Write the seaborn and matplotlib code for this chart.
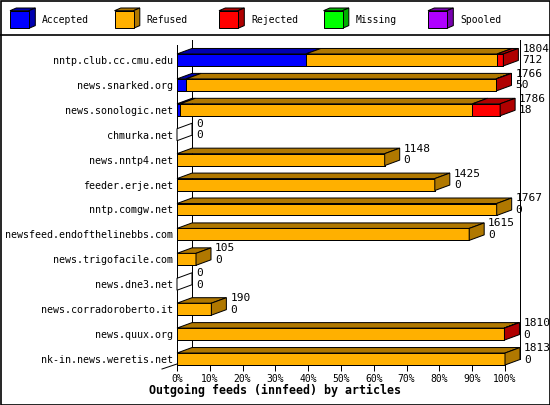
import matplotlib
matplotlib.use("Agg")
import matplotlib.pyplot as plt
from matplotlib.patches import Polygon, Rectangle
import seaborn as sns
import pandas as pd

# innfeed outgoing feeds, article counts per peer
feeds = ["nntp.club.cc.cmu.edu", "news.snarked.org", "news.sonologic.net",
         "chmurka.net", "news.nntp4.net", "feeder.erje.net", "nntp.comgw.net",
         "newsfeed.endofthelinebbs.com", "news.trigofacile.com", "news.dne3.net",
         "news.corradoroberto.it", "news.quux.org", "nk-in.news.weretis.net"]
offered = [1804, 1766, 1786, 0, 1148, 1425, 1767, 1615, 105, 0, 190, 1810, 1813]
accepted = [712, 50, 18, 0, 0, 0, 0, 0, 0, 0, 0, 0, 0]
refused = [1057, 1713, 1615, 0, 1148, 1425, 1767, 1615, 105, 0, 190, 1808, 1813]
rejected = [35, 3, 153, 0, 0, 0, 0, 0, 0, 0, 0, 2, 0]
missing = [0] * 13
spooled = [0] * 13

series = ["Accepted", "Refused", "Rejected", "Missing", "Spooled"]
front_colors = ["#0000ff", "#ffb000", "#ff0000", "#00ff00", "#b000ff"]
dark_colors = ["#0000b0", "#b07800", "#b00000", "#00b000", "#7800b0"]
pct_ticks = list(range(0, 101, 10))

df = pd.DataFrame({"feed": feeds, "Accepted": accepted, "Refused": refused,
                   "Rejected": rejected, "Missing": missing, "Spooled": spooled})
scale = 100.0 / max(offered)
cum = df[series].cumsum(axis=1) * scale

plt.rcParams["font.family"] = ["DejaVu Sans Mono"]
LW = 0.72

fig = plt.figure(figsize=(5.5, 4.05), dpi=100)

# frame + legend layer in pixel coordinates
bg = fig.add_axes([0, 0, 1, 1])
bg.set_xlim(0, 550)
bg.set_ylim(405, 0)
bg.axis("off")
bg.add_patch(Rectangle((0.5, 0.5), 549, 404, fill=False, ec="black", lw=1.2))
bg.plot([0, 550], [35, 35], color="black", lw=1.2)
bg.plot([162, 177], [369, 364], color="black", lw=LW)
for k, name in enumerate(series):
    x0 = 10 + k * 104.5
    bg.add_patch(Polygon([(x0, 10.7), (x0 + 6.3, 8), (x0 + 25.3, 8), (x0 + 19, 10.7)],
                         fc=dark_colors[k], ec="black", lw=LW))
    bg.add_patch(Polygon([(x0 + 19, 10.7), (x0 + 25.3, 8), (x0 + 25.3, 25.6), (x0 + 19, 28.3)],
                         fc=dark_colors[k], ec="black", lw=LW))
    bg.add_patch(Rectangle((x0, 10.7), 19, 17.6, fc=front_colors[k], ec="black", lw=LW))
    bg.text(x0 + 32.3, 20, name, fontsize=7, va="center", ha="left")
bg.text(275, 390, "Outgoing feeds (innfeed) by articles", fontsize=8.4,
        fontweight="bold", ha="center", va="center")

# main plot area: 177..505 px wide, 45..365 px high
ax = fig.add_axes([177 / 550, 40 / 405, 328 / 550, 320 / 405])
ax.patch.set_visible(False)

bar_h = 0.48
for k in reversed(range(len(series))):
    sns.barplot(x=cum[series[k]], y=df["feed"], orient="y", color=front_colors[k],
                saturation=1, width=bar_h, edgecolor="black", linewidth=LW,
                errorbar=None, ax=ax, zorder=2)

ytop, ybot = -0.6, 12 + bar_h / 2
ax.set_xlim(0, 100)
ax.set_ylim(ybot, ytop)
px_x = 328 / 100.0
px_y = 320 / (ybot - ytop)
dx = 15 / px_x
dy = 5.5 / px_y

# back wall
for xb in (dx, 100 + dx):
    ax.plot([xb, xb], [ytop - 5 / px_y, ybot - dy], color="black", lw=LW,
            clip_on=False, zorder=0)

for i in range(len(feeds)):
    yt, yb = i - bar_h / 2, i + bar_h / 2
    left = 0.0
    last = None
    for k, name in enumerate(series):
        right = cum.loc[i, name]
        if right > left:
            ax.add_patch(Polygon([(left, yt), (left + dx, yt - dy), (right + dx, yt - dy), (right, yt)],
                                 fc=dark_colors[k], ec="black", lw=LW, zorder=3, clip_on=False))
            last = k
        left = right
    side_fc = dark_colors[last] if last is not None else "white"
    ax.add_patch(Polygon([(left, yt), (left + dx, yt - dy), (left + dx, yb - dy), (left, yb)],
                         fc=side_fc, ec="black", lw=LW, zorder=3, clip_on=False))
    tx = left + dx + 4 / px_x
    ax.text(tx, i - 11 / px_y, str(offered[i]), fontsize=8, va="center", ha="left")
    ax.text(tx, i + 0.5 / px_y, str(accepted[i]), fontsize=8, va="center", ha="left")

for s in ("top", "right"):
    ax.spines[s].set_visible(False)
for s in ("left", "bottom"):
    ax.spines[s].set_linewidth(LW)
    ax.spines[s].set_color("black")
ax.set_xticks(pct_ticks)
ax.set_xticklabels([f"{v}%" for v in pct_ticks])
ax.tick_params(axis="x", direction="out", length=4.3, width=LW, labelsize=7, pad=2)
ax.tick_params(axis="y", length=0, labelsize=7.2, pad=3)
ax.set_xlabel("")
ax.set_ylabel("")

fig.savefig("out.png", dpi=100)
